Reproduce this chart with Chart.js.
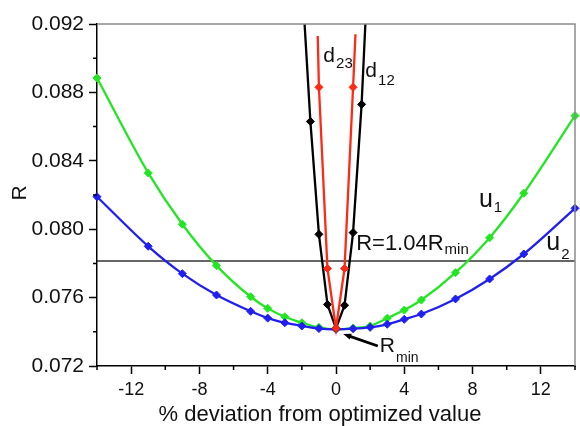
<!DOCTYPE html>
<html>
<head>
<meta charset="utf-8">
<script src="https://cdn.jsdelivr.net/npm/chart.js@4.4.0/dist/chart.umd.min.js"></script>
<style>
html, body { margin: 0; padding: 0; background: #fff; }
#wrap { width: 580px; height: 426px; position: relative; }
</style>
</head>
<body>
<div id="wrap"><canvas id="rChart"></canvas></div>
<script>
// u curves, sampled at the same deviations
const uX = [-14, -11, -9, -7, -5, -4, -3, -2, -1, 0, 1, 2, 3, 4, 5, 7, 9, 11, 14];
const u1 = [0.08884, 0.08329, 0.08029, 0.07787, 0.07605, 0.07537, 0.07488, 0.07453, 0.07426, 0.07415,
            0.07422, 0.07434, 0.07479, 0.07527, 0.07586, 0.07746, 0.0795, 0.0821, 0.08664];
const u2 = [0.0819, 0.0790, 0.0774, 0.07615, 0.0752, 0.0748, 0.07453, 0.07434, 0.07419, 0.07415,
            0.07418, 0.07426, 0.07444, 0.07473, 0.07504, 0.07592, 0.07709, 0.07855, 0.08122];

// d curves (first/last entries = where the drawn line ends, no marker)
const d12X = [-1.84, -1.5, -1, -0.5, 0, 0.5, 1, 1.5, 1.72];
const d12 = [0.092, 0.0863, 0.0797, 0.0756, 0.0742, 0.07555, 0.0798, 0.0873, 0.092];
const d23X = [-1.07, -1, -0.5, 0, 0.5, 1, 1.14];
const d23 = [0.0913, 0.0883, 0.0777, 0.0742, 0.0777, 0.0883, 0.0914];

// R = 1.04 Rmin level
const limitX = [-14, 14];
const limitR = [0.07814, 0.07814];

// labelled ticks
const xTicks = [-12, -8, -4, 0, 4, 8, 12];
const yTicks = [0.072, 0.076, 0.080, 0.084, 0.088, 0.092];

const FONT = '"Liberation Sans", Arial, Helvetica, sans-serif';

function pts(xs, ys) {
    return xs.map((x, i) => ({ x: x, y: ys[i] }));
}
function isXLabel(v) { return xTicks.indexOf(v) >= 0; }
function isYLabel(v) { return yTicks.some(t => Math.abs(t - v) < 1e-9); }

// inner points get a marker, the end points of d curves don't
function endless(ctx) {
    var n = ctx.dataset.data.length;
    return (ctx.dataIndex === 0 || ctx.dataIndex === n - 1) ? 0 : 4;
}

// text notes, in data units
const notes = [
    { text: 'd', sub: '23', x: -0.74, y: 0.08978, size: 21, subSize: 15, dy: 6 },
    { text: 'd', sub: '12', x: 1.72, y: 0.0889, size: 21, subSize: 15, dy: 8 },
    { text: 'u', sub: '1', x: 8.37, y: 0.08132, size: 25, subSize: 15, dy: 5 },
    { text: 'u', sub: '2', x: 12.32, y: 0.07876, size: 25, subSize: 15, dy: 9 },
    { text: 'R=1.04R', sub: 'min', x: 1.18, y: 0.07878, size: 22, subSize: 15, dy: 4 },
    { text: 'R', sub: 'min', x: 2.57, y: 0.07282, size: 21, subSize: 14, dy: 10 }
];

const extras = {
    id: 'extras',
    afterDraw(chart) {
        const c = chart.ctx, a = chart.chartArea;
        const sx = chart.scales.x, sy = chart.scales.y;
        c.save();

        // grey top / right frame
        c.strokeStyle = '#8c8c8c';
        c.lineWidth = 1.5;
        c.beginPath();
        c.moveTo(a.left, a.top);
        c.lineTo(a.right, a.top);
        c.lineTo(a.right, a.bottom);
        c.stroke();

        // minor ticks
        c.strokeStyle = '#000';
        c.lineWidth = 1.5;
        c.beginPath();
        sx.ticks.forEach(t => {
            if (isXLabel(t.value)) return;
            var px = sx.getPixelForValue(t.value);
            c.moveTo(px, a.bottom);
            c.lineTo(px, a.bottom + 4);
        });
        sy.ticks.forEach(t => {
            if (isYLabel(t.value)) return;
            var py = sy.getPixelForValue(t.value);
            c.moveTo(a.left - 4, py);
            c.lineTo(a.left, py);
        });
        c.stroke();

        // axis titles
        c.fillStyle = '#111';
        c.font = '22px ' + FONT;
        c.textAlign = 'center';
        c.textBaseline = 'alphabetic';
        c.fillText('% deviation from optimized value', 320, 421);
        c.save();
        c.translate(26, 193);
        c.rotate(-Math.PI / 2);
        c.font = '21px ' + FONT;
        c.fillText('R', 0, 0);
        c.restore();

        // notes with subscripts
        c.textAlign = 'left';
        notes.forEach(n => {
            var px = sx.getPixelForValue(n.x), py = sy.getPixelForValue(n.y);
            c.font = n.size + 'px ' + FONT;
            c.fillText(n.text, px, py);
            var w = c.measureText(n.text).width;
            c.font = n.subSize + 'px ' + FONT;
            c.fillText(n.sub, px + w + 1, py + n.dy);
        });

        // arrow to Rmin
        var tipX = sx.getPixelForValue(0.42), tipY = sy.getPixelForValue(0.07387);
        var tailX = sx.getPixelForValue(2.45), tailY = sy.getPixelForValue(0.07317);
        var ang = Math.atan2(tipY - tailY, tipX - tailX);
        c.strokeStyle = '#000';
        c.lineWidth = 2.8;
        c.beginPath();
        c.moveTo(tailX, tailY);
        c.lineTo(tipX - 5 * Math.cos(ang), tipY - 5 * Math.sin(ang));
        c.stroke();
        c.fillStyle = '#000';
        c.beginPath();
        c.moveTo(tipX, tipY);
        c.lineTo(tipX - 8 * Math.cos(ang) + 3 * Math.sin(ang), tipY - 8 * Math.sin(ang) - 3 * Math.cos(ang));
        c.lineTo(tipX - 8 * Math.cos(ang) - 3 * Math.sin(ang), tipY - 8 * Math.sin(ang) + 3 * Math.cos(ang));
        c.closePath();
        c.fill();

        c.restore();
    }
};

const ctx = document.getElementById('rChart').getContext('2d');

new Chart(ctx, {
    type: 'scatter',
    data: {
        datasets: [
            {
                label: 'd23',
                data: pts(d23X, d23),
                showLine: true,
                borderColor: '#ff2a14',
                backgroundColor: '#ff2a14',
                borderWidth: 2.3,
                pointStyle: 'rectRot',
                pointRadius: endless,
                pointBorderWidth: 1,
                tension: 0
            },
            {
                label: 'd12',
                data: pts(d12X, d12),
                showLine: true,
                borderColor: '#000',
                backgroundColor: '#000',
                borderWidth: 2.3,
                pointStyle: 'rectRot',
                pointRadius: endless,
                pointBorderWidth: 1,
                tension: 0
            },
            {
                label: 'u2',
                data: pts(uX, u2),
                showLine: true,
                borderColor: '#1f1ff0',
                backgroundColor: '#1f1ff0',
                borderWidth: 2.3,
                pointStyle: 'rectRot',
                pointRadius: 4,
                pointBorderWidth: 1,
                cubicInterpolationMode: 'monotone',
                clip: 6
            },
            {
                label: 'u1',
                data: pts(uX, u1),
                showLine: true,
                borderColor: '#22e622',
                backgroundColor: '#22e622',
                borderWidth: 2.3,
                pointStyle: 'rectRot',
                pointRadius: 4,
                pointBorderWidth: 1,
                cubicInterpolationMode: 'monotone',
                clip: 6
            },
            {
                label: '1.04 Rmin',
                data: pts(limitX, limitR),
                showLine: true,
                borderColor: '#333',
                borderWidth: 1.3,
                pointRadius: 0
            }
        ]
    },
    options: {
        responsive: true,
        maintainAspectRatio: false,
        animation: false,
        events: [],
        layout: { padding: { top: 24, right: 2, left: 0, bottom: 0 } },
        plugins: {
            legend: { display: false },
            tooltip: { enabled: false }
        },
        scales: {
            x: {
                type: 'linear',
                min: -14,
                max: 14,
                afterFit: function (s) { s.height = 60; },
                border: { color: '#000', width: 1.5 },
                grid: {
                    drawOnChartArea: false,
                    tickLength: 8,
                    tickWidth: 1.5,
                    tickColor: c => isXLabel(c.tick.value) ? '#000' : 'rgba(0,0,0,0)'
                },
                ticks: {
                    stepSize: 2,
                    autoSkip: false,
                    maxRotation: 0,
                    padding: 5,
                    color: '#111',
                    font: { family: FONT, size: 18 },
                    callback: v => isXLabel(v) ? String(v) : ''
                }
            },
            y: {
                min: 0.072,
                max: 0.092,
                afterFit: function (s) { s.width = 97; },
                border: { color: '#000', width: 1.5 },
                grid: {
                    drawOnChartArea: false,
                    tickLength: 8,
                    tickWidth: 1.5,
                    tickColor: c => isYLabel(c.tick.value) ? '#000' : 'rgba(0,0,0,0)'
                },
                ticks: {
                    stepSize: 0.002,
                    autoSkip: false,
                    padding: 5,
                    color: '#111',
                    font: { family: FONT, size: 21 },
                    callback: v => isYLabel(v) ? v.toFixed(3) : ''
                }
            }
        }
    },
    plugins: [extras]
});
</script>
</body>
</html>
